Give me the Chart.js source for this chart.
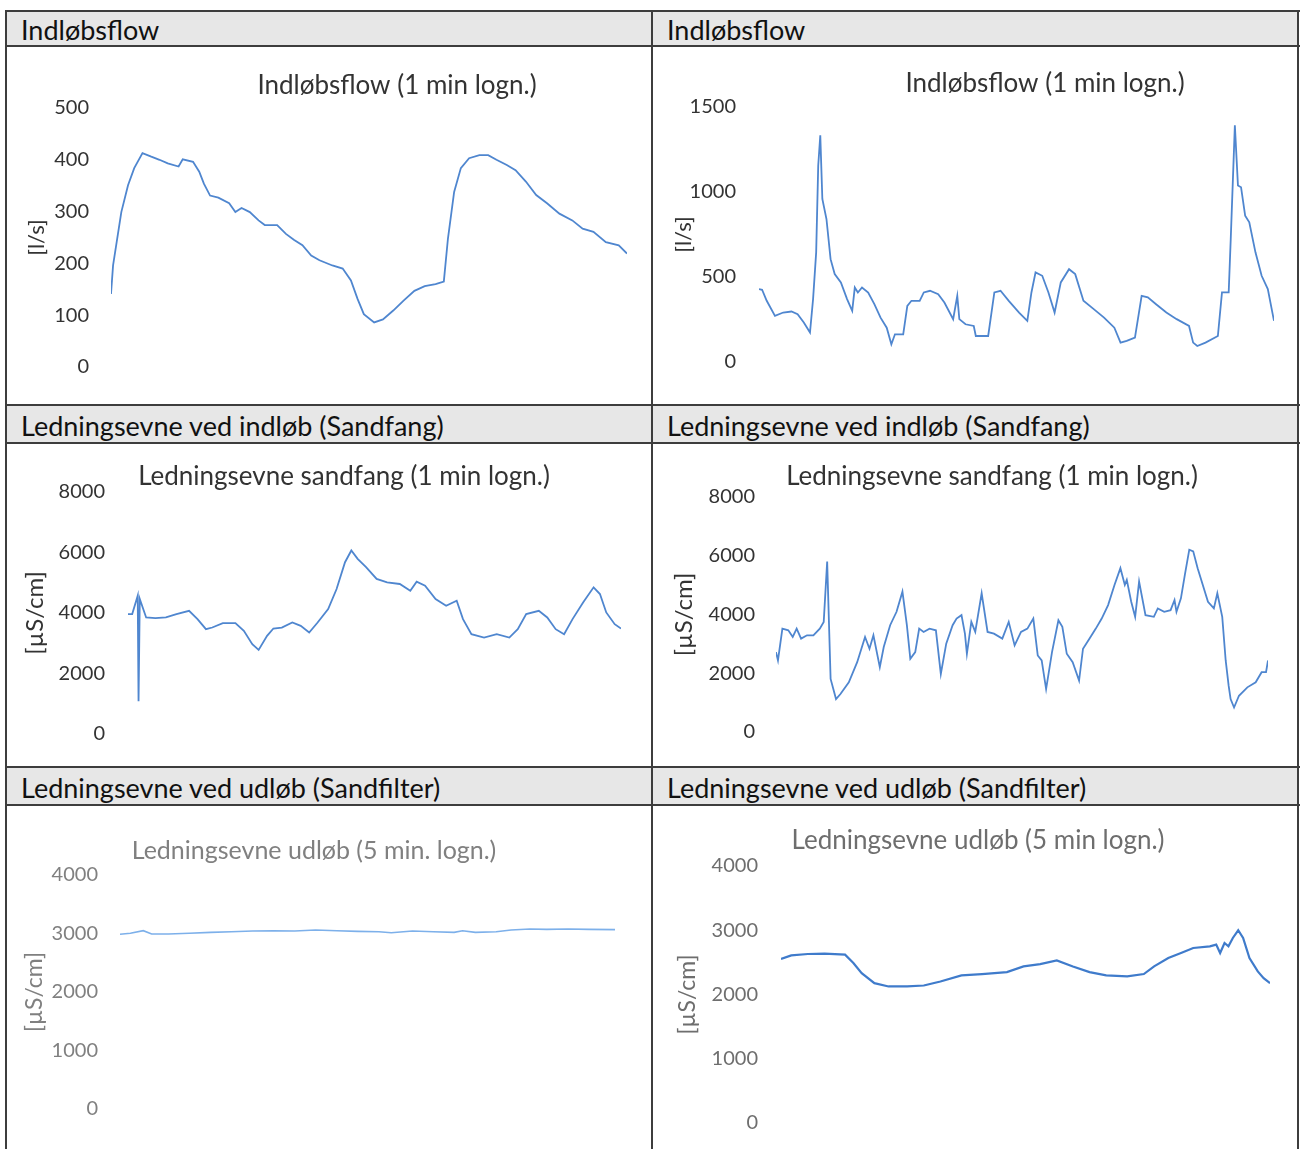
<!DOCTYPE html>
<html>
<head>
<meta charset="utf-8">
<script src="https://cdn.jsdelivr.net/npm/chart.js@4/dist/chart.umd.min.js"></script>
<style>
  html, body { margin: 0; padding: 0; background: #fff; }
  body { width: 1300px; height: 1149px; overflow: hidden; position: relative; font-family: Lato, "Open Sans", sans-serif; }
  .hl { position: absolute; height: 2px; background: #3d3d3d; }
  .vl { position: absolute; width: 2px; background: #3d3d3d; }
  .head { position: absolute; background: #e7e7e7; color: #111; font-size: 27px; display: flex; align-items: center; padding-left: 14px; box-sizing: border-box; padding-top: 2px; }
  .box { position: absolute; }
</style>
</head>
<body>
<div class="head" style="left:7px;top:11px;width:645px;height:35px">Indløbsflow</div>
<div class="head" style="left:653px;top:11px;width:645px;height:35px">Indløbsflow</div>
<div class="head" style="left:7px;top:406px;width:645px;height:37px">Ledningsevne ved indløb (Sandfang)</div>
<div class="head" style="left:653px;top:406px;width:645px;height:37px">Ledningsevne ved indløb (Sandfang)</div>
<div class="head" style="left:7px;top:768px;width:645px;height:37px">Ledningsevne ved udløb (Sandfilter)</div>
<div class="head" style="left:653px;top:768px;width:645px;height:37px">Ledningsevne ved udløb (Sandfilter)</div>

<div class="hl" style="left:6px;top:10px;width:1294px"></div>
<div class="hl" style="left:6px;top:45px;width:1294px"></div>
<div class="hl" style="left:6px;top:404px;width:1294px"></div>
<div class="hl" style="left:6px;top:442px;width:1294px"></div>
<div class="hl" style="left:6px;top:766px;width:1294px"></div>
<div class="hl" style="left:6px;top:804px;width:1294px"></div>
<div class="vl" style="left:5px;top:10px;height:1139px"></div>
<div class="vl" style="left:651px;top:10px;height:1139px"></div>
<div class="vl" style="left:1297px;top:10px;height:1139px"></div>

<div class="box" id="b1"><canvas id="c1"></canvas></div>
<div class="box" id="b2"><canvas id="c2"></canvas></div>
<div class="box" id="b3"><canvas id="c3"></canvas></div>
<div class="box" id="b4"><canvas id="c4"></canvas></div>
<div class="box" id="b5"><canvas id="c5"></canvas></div>
<div class="box" id="b6"><canvas id="c6"></canvas></div>

<script>
// relative time along each logging period (0 = start, 100 = end)
const flowA_t = [0, 0.4, 2.0, 3.3, 4.5, 6.1, 7.8, 9.4, 11.0, 13.1, 13.9, 15.9, 17.1, 18.0, 19.2, 20.8, 22.9, 24.1, 25.3, 26.9, 28.6, 29.8, 32.2, 33.9, 35.5, 37.1, 38.8, 40.4, 42.9, 44.9, 46.5, 47.8, 49.0, 51.0, 52.7, 54.7, 56.7, 58.8, 60.8, 62.9, 64.5, 65.3, 66.5, 67.8, 69.4, 71.4, 73.1, 74.7, 76.7, 78.4, 80.4, 82.4, 84.5, 86.9, 89.4, 91.4, 93.5, 95.9, 98.4, 100];
const flowA = [141, 196, 299, 351, 384, 413, 406, 400, 393, 387, 401, 396, 377, 354, 331, 327, 316, 299, 307, 299, 283, 274, 274, 257, 245, 235, 215, 206, 196, 190, 167, 131, 102, 86, 92, 109, 128, 147, 156, 160, 165, 248, 338, 384, 403, 409, 409, 400, 390, 380, 358, 332, 316, 296, 283, 267, 261, 241, 235, 219];

const flowB_t = [0, 0.6, 1.5, 3.1, 4.7, 6.3, 7.5, 8.7, 9.9, 10.5, 11.1, 11.5, 11.9, 12.3, 13.1, 13.9, 14.7, 15.9, 17.1, 18.1, 18.6, 19.2, 20.0, 21.2, 22.4, 23.6, 24.8, 25.7, 26.4, 28.0, 28.8, 29.6, 31.2, 32.0, 33.2, 34.8, 36.0, 37.7, 38.5, 38.9, 40.1, 41.7, 42.1, 44.5, 45.7, 46.9, 48.5, 50.5, 52.1, 52.9, 53.7, 55.0, 56.2, 57.4, 58.6, 60.2, 61.4, 63.0, 65.0, 67.0, 69.0, 70.2, 71.4, 73.0, 74.3, 75.5, 77.1, 79.1, 81.1, 83.5, 84.3, 85.1, 86.7, 89.1, 89.9, 91.2, 91.6, 92.4, 93.0, 93.6, 94.4, 95.2, 96.4, 97.6, 98.8, 100];
const flowB = [429, 425, 360, 271, 291, 297, 281, 232, 173, 370, 645, 1156, 1333, 959, 841, 605, 517, 468, 370, 301, 438, 409, 438, 409, 340, 261, 202, 104, 163, 163, 330, 360, 360, 409, 419, 399, 350, 252, 389, 252, 222, 212, 153, 153, 409, 419, 360, 291, 242, 409, 527, 507, 409, 291, 468, 546, 517, 360, 311, 261, 202, 114, 124, 144, 389, 380, 340, 291, 252, 212, 114, 94, 114, 153, 409, 409, 723, 1392, 1038, 1028, 861, 822, 645, 507, 429, 242];

const condInA_t = [0, 0.85, 1.97, 2.14, 2.39, 3.68, 5.56, 7.69, 9.83, 12.39, 14.10, 15.81, 17.09, 19.23, 21.79, 23.50, 25.21, 26.50, 28.21, 29.49, 31.20, 33.33, 35.04, 36.75, 38.46, 40.60, 42.31, 44.02, 45.30, 46.58, 48.29, 50.43, 52.56, 55.13, 57.26, 58.55, 60.26, 62.39, 64.53, 66.67, 67.95, 69.66, 72.22, 74.79, 77.35, 79.06, 80.77, 83.33, 85.04, 86.75, 88.46, 90.17, 92.31, 94.44, 95.73, 97.01, 98.72, 100];
const condInA = [3963, 3963, 4572, 1085, 4461, 3852, 3830, 3852, 3963, 4074, 3797, 3465, 3520, 3664, 3664, 3410, 2967, 2779, 3243, 3487, 3520, 3686, 3576, 3354, 3686, 4129, 4793, 5679, 6066, 5790, 5513, 5125, 5015, 4959, 4738, 5037, 4904, 4461, 4240, 4406, 3797, 3299, 3188, 3299, 3188, 3465, 3963, 4074, 3852, 3465, 3299, 3797, 4350, 4849, 4627, 4018, 3631, 3487];

const condInB_t = [0, 0.4, 1.3, 2.5, 3.4, 4.2, 5.1, 6.3, 7.6, 8.9, 9.7, 10.4, 11.1, 12.2, 13.1, 14.8, 16.5, 18.1, 19.0, 19.8, 21.1, 21.9, 23.2, 24.5, 25.7, 26.6, 27.3, 28.3, 29.1, 30.0, 31.2, 32.5, 33.5, 34.6, 35.9, 36.7, 37.7, 38.4, 38.8, 39.7, 40.5, 41.8, 43.0, 44.3, 46.0, 47.3, 48.5, 49.8, 51.1, 52.3, 53.2, 54.0, 54.9, 56.1, 57.4, 58.2, 59.1, 60.3, 61.6, 62.4, 63.7, 65.0, 66.2, 67.5, 68.8, 70.0, 70.9, 71.3, 72.2, 73.0, 73.8, 75.1, 76.8, 77.6, 78.9, 80.2, 81.0, 81.4, 82.3, 83.1, 84.0, 84.8, 85.7, 87.8, 89.0, 89.7, 90.7, 91.4, 92.0, 92.4, 93.1, 94.1, 95.8, 97.5, 98.7, 99.6, 100];
const condInB = [2720, 2435, 3520, 3463, 3235, 3520, 3178, 3292, 3292, 3520, 3749, 5806, 1806, 1120, 1292, 1692, 2377, 3235, 2835, 3292, 2206, 2892, 3635, 4092, 4778, 3635, 2492, 2720, 3520, 3406, 3520, 3463, 1977, 3006, 3635, 3863, 3978, 3349, 2663, 3749, 3406, 4721, 3406, 3349, 3178, 3749, 2949, 3406, 3520, 3863, 2606, 2435, 1463, 2720, 3806, 3578, 2663, 2377, 1749, 2835, 3178, 3520, 3863, 4320, 5006, 5578, 5006, 5178, 4435, 3920, 5121, 3978, 3920, 4206, 4092, 4149, 4492, 4092, 4549, 5349, 6206, 6149, 5578, 4435, 4206, 4721, 3920, 2435, 1577, 1120, 834, 1234, 1520, 1692, 2035, 2035, 2435];

const condOutA_t = [0, 2.1, 4.7, 6.4, 9.8, 14.0, 18.3, 22.5, 26.8, 31.0, 35.3, 39.5, 43.8, 48.0, 52.3, 54.8, 59.1, 63.3, 67.5, 69.2, 71.8, 76.0, 79.0, 82.8, 86.2, 90.5, 94.7, 100];
const condOutA = [2986, 3003, 3048, 2991, 2991, 3003, 3020, 3031, 3043, 3048, 3043, 3060, 3048, 3037, 3031, 3014, 3043, 3031, 3020, 3048, 3020, 3031, 3060, 3077, 3071, 3077, 3071, 3066];

const condOutB_t = [0, 2.1, 5.5, 8.9, 13.1, 14.8, 16.5, 19.1, 22.0, 25.8, 29.2, 32.6, 36.9, 41.1, 46.2, 49.6, 53.0, 56.4, 59.7, 63.1, 66.5, 70.8, 74.2, 76.3, 79.2, 81.8, 84.3, 87.7, 89.0, 89.8, 90.7, 91.5, 92.4, 93.5, 94.5, 95.8, 97.5, 98.7, 100];
const condOutB = [2552, 2609, 2630, 2635, 2620, 2490, 2333, 2177, 2125, 2125, 2140, 2203, 2297, 2318, 2349, 2437, 2474, 2531, 2437, 2349, 2297, 2281, 2318, 2437, 2567, 2646, 2724, 2750, 2776, 2646, 2802, 2750, 2880, 3000, 2880, 2567, 2359, 2255, 2177];

const flowTitle = "Indløbsflow (1 min logn.)";
const condInTitle = "Ledningsevne sandfang (1 min logn.)";
const condOutTitleA = "Ledningsevne udløb (5 min. logn.)";
const condOutTitleB = "Ledningsevne udløb (5 min logn.)";

Chart.defaults.font.family = "Lato, 'Open Sans', sans-serif";

// moves the chart title so it is centred on a given x (canvas coords)
const centerTitle = {
  id: "centerTitle",
  afterLayout(chart, args, opts) {
    const tb = chart.titleBlock;
    if (!tb || opts.x == null) return;
    const half = (tb.right - tb.left) / 2;
    tb.left = opts.x - half;
    tb.right = opts.x + half;
  }
};

function draw(id, g, t, values, yMax, step, title, yTitle, s) {
  const box = document.getElementById("b" + id);
  const canvas = document.getElementById("c" + id);
  const left = g.cell[0], top = g.cell[1], width = g.cell[2] - g.cell[0];
  const tickPad = g.plotLeft - g.tickRight;
  const padBottom = tickPad + 16; // must exceed the y axis' own bottom padding
  const height = g.plotBottom + padBottom - top;
  Object.assign(box.style, { left: left + "px", top: top + "px", width: width + "px", height: height + "px" });
  canvas.width = width; canvas.height = height;
  const ts = s.titleSize;
  new Chart(canvas, {
    type: "line",
    data: { datasets: [{ data: t.map((x, i) => ({ x, y: values[i] })), borderColor: s.line, borderWidth: s.width, pointRadius: 0, tension: 0 }] },
    options: {
      responsive: false, animation: false, devicePixelRatio: 1,
      layout: { padding: { left: 0, top: 0, right: g.cell[2] - g.plotRight, bottom: padBottom } },
      plugins: {
        legend: { display: false }, tooltip: { enabled: false },
        title: { display: true, text: title, color: s.title, font: { size: ts, weight: "normal", lineHeight: 1 }, padding: { top: g.titleY - ts / 2 - top, bottom: g.plotTop - g.titleY - ts / 2 } },
        centerTitle: { x: g.titleX - left }
      },
      scales: {
        x: { type: "linear", min: 0, max: 100, display: false },
        y: {
          min: 0, max: yMax,
          grid: { display: false, drawTicks: false }, border: { display: false },
          ticks: { stepSize: step, padding: tickPad, color: s.ticks, font: { size: 20 }, callback: v => String(v) },
          title: { display: true, text: yTitle, color: s.ticks, font: { size: g.yTitleSize, lineHeight: 1 }, padding: { top: g.yTitleX - left - g.yTitleSize / 2, bottom: 0 } },
          afterFit: sc => { sc.width = g.plotLeft - left; }
        }
      }
    },
    plugins: [centerTitle]
  });
}

const dark = { line: "#4f86cf", width: 1.8, title: "#333", ticks: "#333", titleSize: 26 };
const pale = { line: "#7db0ea", width: 1.6, title: "#808080", ticks: "#808080", titleSize: 25 };
const mid = { line: "#3f7bcb", width: 2.2, title: "#6e6e6e", ticks: "#6e6e6e", titleSize: 26 };

draw(1, { cell: [6, 47, 652], titleX: 397, titleY: 86, plotTop: 108, plotBottom: 367, plotLeft: 111, plotRight: 627, tickRight: 89, yTitleX: 37, yTitleSize: 22 }, flowA_t, flowA, 500, 100, flowTitle, "[l/s]", dark);
draw(2, { cell: [652, 47, 1298], titleX: 1045, titleY: 84, plotTop: 107, plotBottom: 362, plotLeft: 759, plotRight: 1274, tickRight: 736, yTitleX: 684, yTitleSize: 22 }, flowB_t, flowB, 1500, 500, flowTitle, "[l/s]", dark);
draw(3, { cell: [6, 444, 652], titleX: 344, titleY: 477, plotTop: 492, plotBottom: 734, plotLeft: 128, plotRight: 621, tickRight: 105, yTitleX: 35, yTitleSize: 24 }, condInA_t, condInA, 8000, 2000, condInTitle, "[µS/cm]", dark);
draw(4, { cell: [652, 444, 1298], titleX: 992, titleY: 477, plotTop: 497, plotBottom: 732, plotLeft: 776, plotRight: 1268, tickRight: 755, yTitleX: 684, yTitleSize: 24 }, condInB_t, condInB, 8000, 2000, condInTitle, "[µS/cm]", dark);
draw(5, { cell: [6, 806, 652], titleX: 314, titleY: 851, plotTop: 875, plotBottom: 1109, plotLeft: 120, plotRight: 615, tickRight: 98, yTitleX: 35, yTitleSize: 23 }, condOutA_t, condOutA, 4000, 1000, condOutTitleA, "[µS/cm]", pale);
draw(6, { cell: [652, 806, 1298], titleX: 978, titleY: 841, plotTop: 866, plotBottom: 1123, plotLeft: 781, plotRight: 1270, tickRight: 758, yTitleX: 688, yTitleSize: 23 }, condOutB_t, condOutB, 4000, 1000, condOutTitleB, "[µS/cm]", mid);
</script>
</body>
</html>
